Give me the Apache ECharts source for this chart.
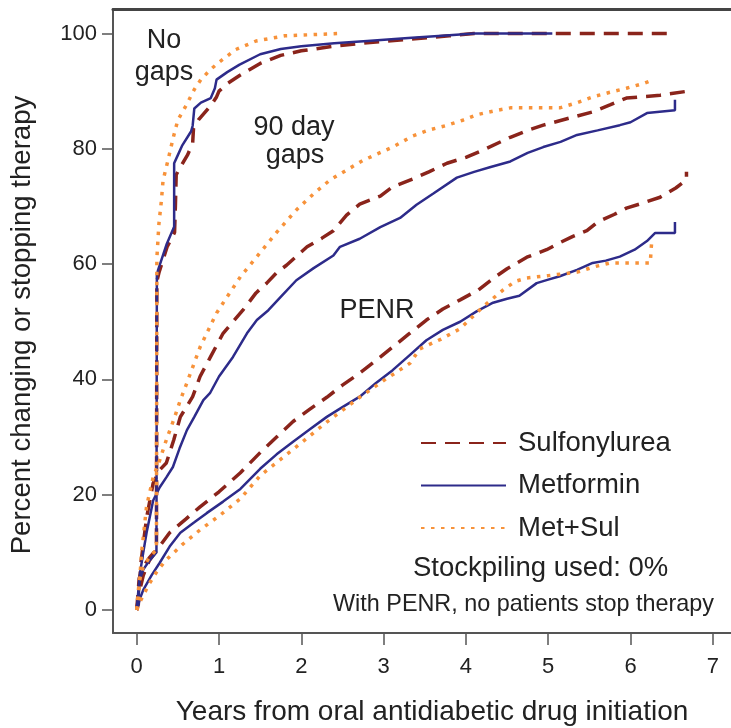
<!DOCTYPE html>
<html><head><meta charset="utf-8">
<script src="https://cdn.jsdelivr.net/npm/echarts@6/dist/echarts.min.js"></script>
<style>html,body{margin:0;padding:0;background:#fff}#c{width:731px;height:728px}</style>
</head><body><div id="c"></div>
<script>
// ---- tick labels / categories ----
const xTicks = [0, 1, 2, 3, 4, 5, 6, 7];
const yTicks = [0, 20, 40, 60, 80, 100];
const drugNames = ['Sulfonylurea', 'Metformin', 'Met+Sul'];

// ---- No gaps ----
const sulNoGaps = [[0,0],[0.03,5.5],[0.08,7.5],[0.15,9],[0.24,10.5],[0.245,57],[0.27,58.5],[0.37,63],[0.46,65.5],[0.47,70],[0.48,75.5],[0.53,76.8],[0.62,79],[0.68,81],[0.69,83.5],[0.75,85],[0.9,87.5],[0.97,89],[1.0,90],[1.1,91.3],[1.25,92.7],[1.5,94.8],[1.75,96.2],[2.0,97],[2.4,97.8],[2.8,98.4],[3.3,99],[3.8,99.6],[4.1,100],[6.5,100]];
const metNoGaps = [[0,0],[0.03,5],[0.08,7],[0.15,8.5],[0.24,10],[0.245,58],[0.26,59],[0.365,63.5],[0.455,66.5],[0.455,77.5],[0.49,78.6],[0.55,80.5],[0.66,83],[0.68,84],[0.7,87],[0.78,88],[0.9,88.8],[0.95,90.5],[0.97,92],[1.1,93.3],[1.25,94.6],[1.5,96.4],[1.75,97.3],[2.0,97.8],[2.4,98.3],[2.8,98.7],[3.3,99.2],[3.8,99.7],[4.1,100],[5.05,100]];
const msNoGaps = [[0,0],[0.03,5],[0.08,7.5],[0.15,9],[0.24,10.5],[0.245,61],[0.27,67],[0.3,71],[0.32,74.5],[0.38,78],[0.445,82],[0.5,85],[0.6,87.5],[0.7,90.3],[0.78,92],[0.9,93.8],[1.0,95],[1.2,97.2],[1.45,98.7],[1.8,99.6],[2.47,100]];

// ---- 90 day gaps ----
const sul90 = [[0,0],[0.02,1],[0.05,8],[0.12,16],[0.2,22],[0.28,24.3],[0.36,25.5],[0.45,29.5],[0.53,33.5],[0.68,37],[0.77,40.5],[0.9,44],[1.05,48],[1.29,52],[1.45,55],[1.58,56.7],[1.7,58.5],[1.82,59.8],[2.07,63],[2.25,64.5],[2.39,65.8],[2.55,68.5],[2.71,70.4],[2.96,71.8],[3.11,73.4],[3.36,74.8],[3.55,76],[3.77,77.5],[4.0,78.5],[4.21,79.8],[4.54,82],[4.75,83.2],[4.94,84.1],[5.25,85.3],[5.54,86.4],[5.75,87.6],[5.95,88.8],[6.36,89.3],[6.7,90]];
const met90 = [[0,0],[0.02,1],[0.04,6.4],[0.08,10],[0.12,13.4],[0.2,19],[0.28,21.3],[0.36,23],[0.44,24.8],[0.52,28],[0.61,31.2],[0.7,33.5],[0.81,36.4],[0.89,37.6],[1.0,40.5],[1.17,43.9],[1.34,48],[1.46,50.3],[1.6,52],[1.75,54.3],[1.94,57.2],[2.15,59.3],[2.39,61.5],[2.47,63],[2.71,64.4],[2.96,66.4],[3.2,68],[3.4,70.3],[3.6,72.2],[3.89,75],[4.1,76],[4.29,76.8],[4.54,77.8],[4.75,79.3],[4.94,80.3],[5.15,81.2],[5.35,82.4],[5.6,83.2],[5.87,84.1],[6.0,84.6],[6.2,86.2],[6.54,86.7],[6.54,88.5]];
const ms90 = [[0,0],[0.02,2],[0.06,10],[0.12,18],[0.2,23],[0.28,26],[0.36,29.5],[0.45,33],[0.53,36.4],[0.61,39.4],[0.77,45.6],[0.97,51.5],[1.13,55],[1.26,57.8],[1.5,62],[1.7,65.5],[1.94,69.4],[2.15,72.2],[2.35,74.6],[2.55,76.3],[2.75,78],[3.11,80.3],[3.35,82.2],[3.56,83.3],[3.75,84],[3.97,85],[4.13,85.9],[4.35,86.6],[4.54,87.1],[4.85,87.1],[5.14,87.1],[5.35,88],[5.54,89],[5.75,89.8],[5.95,90.5],[6.15,91.3],[6.26,91.9]];

// ---- PENR ----
const sulPenr = [[0,0],[0.03,3],[0.08,6],[0.15,8.5],[0.25,10.5],[0.4,13.4],[0.6,15.8],[0.77,17.9],[1.0,20.5],[1.26,23.8],[1.5,27.3],[1.7,30],[1.9,32.7],[2.1,34.8],[2.31,36.9],[2.5,39],[2.71,41.1],[2.9,43.2],[3.11,45.6],[3.3,47.8],[3.52,50.3],[3.72,52.2],[3.93,53.8],[4.15,55.5],[4.33,57.5],[4.5,59.2],[4.74,61.2],[4.98,62.5],[5.14,63.7],[5.3,64.8],[5.47,65.8],[5.6,67.3],[5.8,68.6],[5.95,69.7],[6.15,70.6],[6.36,71.6],[6.55,73.2],[6.68,74.6],[6.68,76]];
const metPenr = [[0,0],[0.04,2],[0.08,3.5],[0.18,6],[0.28,8.2],[0.4,11],[0.53,13.4],[0.7,15.2],[0.85,16.8],[1.05,18.8],[1.26,21],[1.5,24.5],[1.7,27],[1.9,29.2],[2.1,31.3],[2.31,33.5],[2.5,35.2],[2.71,37],[2.9,39.3],[3.11,41.6],[3.3,44],[3.52,46.8],[3.72,48.6],[3.93,50],[4.13,51.8],[4.33,53.3],[4.5,54],[4.65,54.5],[4.86,56.7],[5.0,57.3],[5.14,57.9],[5.35,59],[5.54,60.2],[5.7,60.6],[5.87,61.3],[6.05,62.5],[6.2,64],[6.3,65.4],[6.54,65.4],[6.54,67.3]];
const msPenr = [[0,0],[0.05,1.7],[0.15,4.5],[0.25,6.8],[0.36,8.7],[0.55,11.3],[0.77,13.9],[1.0,16.3],[1.26,19.3],[1.5,23.3],[1.78,26.5],[2.0,29],[2.3,32.5],[2.71,36.9],[3.0,39.8],[3.32,42.8],[3.44,45.3],[3.7,47],[3.93,48.8],[4.2,52.5],[4.45,55.5],[4.6,57],[4.74,57.6],[5.0,58],[5.35,58.6],[5.55,59.5],[5.75,60.2],[6.24,60.2],[6.26,64.5]];

const FONT = 'Liberation Sans, Arial, Helvetica, sans-serif';
const TXT = '#222';
const styles = {
  'Sulfonylurea': { color: '#8a241b', width: 3.5, type: [15, 9] },
  'Metformin':    { color: '#2d2b8a', width: 2.5, type: 'solid' },
  'Met+Sul':      { color: '#f7923a', width: 3.5, type: [3.5, 6.5] }
};
function mk(name, data, z) {
  const s = styles[name];
  return {
    type: 'line', name: name, data: data, symbol: 'none', showSymbol: false,
    z: z, silent: true,
    itemStyle: { color: s.color },
    lineStyle: { color: s.color, width: s.width, type: s.type, cap: 'butt' }
  };
}
const series = [
  mk('Sulfonylurea', sulPenr, 2), mk('Metformin', metPenr, 3), mk('Met+Sul', msPenr, 4),
  mk('Sulfonylurea', sul90, 2), mk('Metformin', met90, 3), mk('Met+Sul', ms90, 4),
  mk('Sulfonylurea', sulNoGaps, 2), mk('Metformin', metNoGaps, 3), mk('Met+Sul', msNoGaps, 4)
];

const chart = echarts.init(document.getElementById('c'), null, { renderer: 'canvas' });
const axisCol = '#555';
function txt(x, y, text, size, align, extra) {
  return Object.assign({ type: 'text', x: x, y: y, silent: true,
    style: { text: text, fontSize: size, fontFamily: FONT, fill: TXT, align: align, verticalAlign: 'middle' } }, extra || {});
}
chart.setOption({
  animation: false,
  backgroundColor: '#fff',
  textStyle: { fontFamily: FONT },
  grid: { left: 113, top: 9, right: 0, bottom: 95, containLabel: false },
  xAxis: [{
    type: 'value', position: 'bottom', min: -0.288, max: 7.221,
    axisLine: { show: true, onZero: false, lineStyle: { color: axisCol, width: 2 } },
    axisTick: { show: true, length: 12, customValues: xTicks, lineStyle: { color: axisCol, width: 1.5 } },
    axisLabel: { customValues: xTicks, margin: 23, fontSize: 22, color: TXT, fontFamily: FONT },
    splitLine: { show: false }
  }, {
    type: 'value', position: 'top', min: -0.288, max: 7.221,
    axisLine: { show: true, onZero: false, lineStyle: { color: '#444', width: 3 } },
    axisTick: { show: false }, axisLabel: { show: false }, splitLine: { show: false }
  }],
  yAxis: [{
    type: 'value', position: 'left', min: -3.99, max: 104.25,
    axisLine: { show: true, onZero: false, lineStyle: { color: axisCol, width: 2 } },
    axisTick: { show: true, length: 11, customValues: yTicks, lineStyle: { color: axisCol, width: 1.5 } },
    axisLabel: { customValues: yTicks, margin: 16, fontSize: 22, color: TXT, fontFamily: FONT },
    splitLine: { show: false }
  }],
  legend: {
    data: drugNames, orient: 'vertical', left: 415, top: 424,
    itemWidth: 85, itemHeight: 26, itemGap: 14.5, selectedMode: false,
    itemStyle: { opacity: 0 },
    textStyle: { fontSize: 27.5, color: TXT, lineHeight: 26, fontFamily: FONT, padding: [0, 0, 0, 7] }
  },
  graphic: [
    txt(164, 40.6, 'No', 27, 'center'),
    txt(164, 72.6, 'gaps', 27, 'center'),
    txt(294, 127.6, '90 day', 27, 'center'),
    txt(295, 155.6, 'gaps', 27, 'center'),
    txt(377, 310.6, 'PENR', 27, 'center'),
    txt(413, 568, 'Stockpiling used: 0%', 27.5, 'left'),
    txt(333, 605, 'With PENR, no patients stop therapy', 23.4, 'left'),
    txt(432, 712, 'Years from oral antidiabetic drug initiation', 28, 'center'),
    txt(22, 325, 'Percent changing or stopping therapy', 27.6, 'center', { rotation: Math.PI / 2 })
  ],
  series: series
});
</script>
</body></html>
